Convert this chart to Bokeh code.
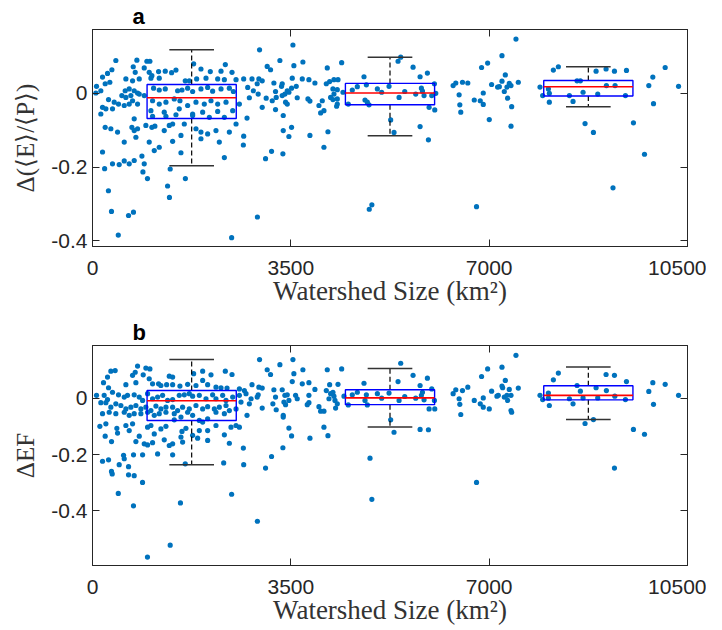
from bokeh.plotting import figure
from bokeh.layouts import column
from bokeh.models import Range1d, FixedTicker, LinearAxis
from bokeh.embed import file_html
from bokeh.resources import INLINE

# ---------------- data ----------------
x_ticks = [0, 3500, 7000, 10500]
y_ticks = [-0.4, -0.2, 0]

bin_centers = [1750, 5250, 8750]

# panel a box statistics
a_q1 = [-0.068, -0.031, -0.007]
a_med = [-0.012, 0.001, 0.018]
a_q3 = [0.024, 0.027, 0.035]
a_lo = [-0.196, -0.115, -0.036]
a_hi = [0.118, 0.098, 0.072]

# panel b box statistics
b_q1 = [-0.079, -0.023, -0.006]
b_med = [-0.009, 0.001, 0.010]
b_q3 = [0.027, 0.030, 0.044]
b_lo = [-0.236, -0.102, -0.076]
b_hi = [0.137, 0.105, 0.111]

# panel a scatter (watershed size km2, delta <E>/<P>)
a_pts = [
    (412, 0.089), (783, 0.090), (960, 0.087), (1013, 0.087), (719, 0.072), (913, 0.069),
    (1785, 0.080), (2344, 0.078), (342, 0.064), (265, 0.054), (754, 0.057), (1001, 0.057),
    (1048, 0.048), (1166, 0.059), (1284, 0.060), (1396, 0.056), (1473, 0.063), (1914, 0.066),
    (2079, 0.059), (2268, 0.060), (2462, 0.057), (177, 0.044), (589, 0.039), (707, 0.034),
    (825, 0.039), (1031, 0.041), (1178, 0.041), (1637, 0.034), (1708, 0.034), (1838, 0.039),
    (2003, 0.041), (2209, 0.039), (2327, 0.037), (2533, 0.037), (2668, 0.039), (2815, 0.039),
    (71, 0.019), (224, 0.026), (306, 0.030), (147, 0.007), (59, 0.001), (577, 0.007),
    (648, 0.012), (736, 0.007), (795, 0.001), (1078, 0.014), (1178, 0.009), (1284, 0.012),
    (1502, 0.007), (1579, 0.009), (1679, 0.014), (1767, 0.005), (1914, 0.012), (2032, 0.016),
    (2120, 0.006), (2268, 0.012), (2415, 0.014), (2486, 0.005), (2739, 0.016), (2839, 0.007),
    (2768, -0.012), (518, -0.006), (589, -0.011), (677, -0.006), (825, -0.002), (913, -0.006),
    (283, -0.017), (383, -0.024), (459, -0.029), (648, -0.029), (707, -0.020), (795, -0.029),
    (177, -0.038), (236, -0.042), (147, -0.056), (353, -0.042), (560, -0.033), (1060, -0.020),
    (1178, -0.029), (1296, -0.024), (1443, -0.015), (1543, -0.020), (1679, -0.033), (1826, -0.024),
    (1973, -0.029), (2091, -0.020), (2209, -0.029), (2356, -0.024), (2592, -0.029), (1031, -0.047),
    (1266, -0.051), (1531, -0.042), (1767, -0.056), (1944, -0.051), (2209, -0.049), (2474, -0.047),
    (2727, -0.067), (736, -0.069), (1060, -0.062), (1296, -0.062), (1473, -0.058), (1767, -0.060),
    (2062, -0.065), (2327, -0.065), (2533, -0.083), (224, -0.092), (324, -0.096), (442, -0.105),
    (695, -0.092), (736, -0.101), (795, -0.096), (942, -0.087), (1048, -0.092), (1101, -0.089),
    (1266, -0.101), (1355, -0.087), (1414, -0.083), (1620, -0.083), (1826, -0.096), (1914, -0.105),
    (2032, -0.110), (2179, -0.101), (2415, -0.105), (2668, -0.116), (560, -0.132), (766, -0.119),
    (1001, -0.132), (1178, -0.146), (1090, -0.155), (1414, -0.130), (1561, -0.114), (1914, -0.123),
    (2238, -0.132), (2662, -0.140), (177, -0.159), (872, -0.170), (736, -0.182), (648, -0.191),
    (560, -0.183), (471, -0.193), (353, -0.191), (913, -0.191), (1561, -0.161), (2327, -0.174),
    (214, -0.204), (890, -0.213), (1371, -0.205), (970, -0.231), (1639, -0.231), (1325, -0.251),
    (281, -0.264), (1358, -0.282), (335, -0.320), (636, -0.331), (723, -0.322), (455, -0.384),
    (2455, -0.391), (2910, -0.335), (4884, -0.314), (4930, -0.302), (6777, -0.307), (9185, -0.256),
    (2948, 0.118), (3537, 0.131), (3307, 0.089), (3713, 0.085), (3083, 0.073), (3142, 0.064),
    (3554, 0.075), (4143, 0.069), (4397, 0.083), (5439, 0.098), (5392, 0.087), (5657, 0.071),
    (4791, 0.045), (5781, 0.045), (5910, 0.055), (6411, 0.028), (6529, 0.030), (6623, 0.028),
    (6364, 0.021), (2936, 0.039), (2995, 0.034), (2906, 0.026), (2924, -0.002), (3201, 0.028),
    (3348, 0.026), (3336, 0.019), (3525, 0.041), (3702, 0.039), (3819, 0.037), (3925, 0.028),
    (3596, 0.019), (3513, 0.014), (3437, 0.007), (3466, 0.003), (3395, -0.002), (3348, -0.006),
    (3230, 0.005), (3242, -0.011), (3172, -0.020), (3065, -0.013), (2995, -0.038), (3230, -0.044),
    (3366, -0.060), (3437, -0.029), (3407, -0.024), (3613, -0.012), (3802, -0.015), (3837, -0.021),
    (3996, -0.033), (4055, -0.020), (4084, -0.047), (4026, -0.053), (4126, 0.026), (4185, 0.032),
    (4261, 0.037), (4332, 0.037), (4243, 0.012), (4320, 0.010), (4261, -0.002), (4202, -0.011),
    (4320, -0.015), (4243, -0.017), (4320, -0.029), (4308, -0.035), (4420, 0.003), (4514, -0.029),
    (4585, 0.009), (4673, 0.018), (4833, 0.023), (4809, -0.018), (4850, -0.024), (4880, -0.031),
    (5027, 0.012), (5103, 0.003), (5233, 0.019), (5410, -0.011), (5510, 0.005), (5704, -0.002),
    (5804, 0.014), (5823, 0.006), (5851, -0.006), (5987, -0.006), (6034, 0.026), (6058, 0.000),
    (5940, -0.038), (6040, -0.045), (5262, -0.072), (5321, -0.106), (5781, -0.090), (5928, -0.126),
    (3366, -0.101), (3513, -0.092), (3466, -0.117), (3837, -0.114), (4155, -0.104), (4084, -0.146),
    (3160, -0.157), (3054, -0.177), (3360, -0.164), (6470, -0.004), (6482, -0.031), (6499, -0.051),
    (7473, 0.147), (7226, 0.102), (6973, 0.082), (6866, 0.070), (7285, 0.050), (7226, 0.033),
    (7043, 0.024), (7149, 0.017), (7179, 0.018), (7314, 0.017), (7355, 0.027), (7385, 0.021),
    (7514, 0.030), (7267, 0.005), (6896, 0.001), (6737, -0.018), (6843, -0.020), (6896, -0.030),
    (7326, -0.013), (7397, -0.036), (7002, -0.071), (7385, -0.089), (8133, 0.063), (8221, 0.072),
    (7897, 0.017), (8045, 0.012), (7944, -0.006), (8062, 0.000), (8062, -0.024), (8551, 0.034),
    (8610, 0.034), (8887, 0.060), (9063, 0.066), (9211, 0.060), (9423, 0.062), (8657, 0.003),
    (8416, -0.006), (8480, -0.022), (8916, -0.002), (9069, 0.021), (9222, 0.021), (9405, -0.006),
    (8692, -0.082), (8840, -0.106), (9546, -0.080), (9741, -0.165), (9817, 0.021), (9888, 0.044),
    (9900, -0.028), (10106, 0.070), (10342, 0.019),
]

# panel b scatter (watershed size km2, delta EF)
b_pts = [
    (795, 0.114), (942, 0.107), (1013, 0.104), (324, 0.096), (400, 0.098), (754, 0.092),
    (707, 0.081), (895, 0.083), (1355, 0.078), (1414, 0.075), (1785, 0.087), (1944, 0.096),
    (2091, 0.083), (2344, 0.096), (2462, 0.084), (265, 0.075), (194, 0.055), (283, 0.037),
    (589, 0.048), (766, 0.055), (1001, 0.069), (1060, 0.051), (1166, 0.051), (1207, 0.045),
    (1308, 0.048), (1414, 0.048), (1543, 0.043), (1679, 0.049), (1826, 0.045), (1944, 0.063),
    (2032, 0.048), (2179, 0.039), (2268, 0.037), (2374, 0.036), (2592, 0.033), (2680, 0.027),
    (2815, 0.048), (71, 0.010), (206, 0.010), (265, -0.005), (353, 0.021), (459, 0.012),
    (560, 0.004), (618, 0.010), (736, 0.012), (825, 0.004), (884, -0.008), (972, 0.016),
    (1060, -0.002), (1149, 0.004), (1237, 0.010), (1325, -0.008), (1414, -0.005), (1531, 0.010),
    (1620, 0.012), (1708, 0.016), (1767, 0.007), (1885, 0.010), (2003, -0.002), (2120, 0.012),
    (2179, -0.002), (2297, 0.010), (2356, -0.008), (2474, 0.004), (2592, 0.010), (2709, 0.016),
    (2798, -0.002), (147, -0.016), (236, -0.016), (324, -0.032), (412, -0.020), (501, -0.026),
    (589, -0.038), (677, -0.032), (766, -0.026), (854, -0.038), (942, -0.032), (1031, -0.044),
    (1119, -0.028), (1207, -0.038), (1296, -0.032), (1414, -0.032), (1502, -0.044), (1590, -0.032),
    (1708, -0.038), (1826, -0.026), (1944, -0.038), (2032, -0.030), (2150, -0.038), (2238, -0.032),
    (2356, -0.026), (2415, -0.044), (2533, -0.038), (2621, -0.014), (2768, -0.020), (177, -0.055),
    (295, -0.050), (412, -0.055), (560, -0.050), (648, -0.061), (736, -0.055), (854, -0.055),
    (972, -0.050), (1090, -0.061), (1178, -0.055), (1296, -0.050), (1443, -0.055), (1561, -0.067),
    (1679, -0.050), (1767, -0.061), (1885, -0.079), (1944, -0.085), (2032, -0.073), (2179, -0.050),
    (2327, -0.055), (2533, -0.097), (2592, -0.103), (2727, -0.061), (130, -0.100), (236, -0.091),
    (430, -0.107), (442, -0.124), (589, -0.097), (648, -0.115), (707, -0.091), (972, -0.103),
    (1031, -0.097), (1090, -0.127), (1207, -0.109), (1296, -0.100), (1443, -0.077), (1579, -0.118),
    (1649, -0.107), (1767, -0.132), (1885, -0.115), (2032, -0.115), (2179, -0.097), (2327, -0.130),
    (2444, -0.103), (224, -0.135), (336, -0.154), (766, -0.154), (825, -0.135), (913, -0.162),
    (972, -0.166), (1060, -0.158), (1266, -0.148), (1355, -0.168), (1414, -0.162), (1561, -0.138),
    (1590, -0.156), (1855, -0.142), (2032, -0.150), (2415, -0.160), (2662, -0.177), (177, -0.224),
    (283, -0.219), (471, -0.236), (548, -0.203), (560, -0.215), (636, -0.243), (724, -0.201),
    (884, -0.201), (1149, -0.198), (1414, -0.201), (1637, -0.233), (2315, -0.230), (2668, -0.236),
    (335, -0.260), (348, -0.269), (636, -0.272), (736, -0.275), (883, -0.299), (455, -0.338),
    (2455, -0.341), (723, -0.382), (1552, -0.372), (2910, -0.437), (1371, -0.522), (970, -0.564),
    (4930, -0.359), (6777, -0.299),
    (2948, 0.137), (3537, 0.137), (3307, 0.119), (3713, 0.101), (3083, 0.101), (3142, 0.084),
    (3554, 0.087), (4143, 0.101), (4397, 0.104), (5439, 0.124), (5392, 0.059), (5657, 0.081),
    (5910, 0.071), (5781, 0.045), (4791, 0.053), (3702, 0.051), (3819, 0.055), (3525, 0.059),
    (3925, 0.031), (4185, 0.048), (4332, 0.049), (4126, 0.027), (2906, 0.004), (2936, 0.039),
    (2995, 0.036), (2924, 0.012), (3201, 0.030), (3230, 0.004), (3183, -0.020), (3348, 0.030),
    (3395, 0.010), (3437, 0.012), (3466, -0.008), (3378, -0.014), (3407, -0.023), (3584, 0.010),
    (3613, -0.002), (3819, 0.010), (3790, -0.023), (3819, -0.016), (3996, -0.030), (4026, -0.046),
    (4084, -0.046), (4173, -0.002), (4202, 0.016), (4243, 0.021), (4261, 0.007), (4279, -0.008),
    (4320, -0.020), (4290, -0.035), (4438, 0.007), (4514, -0.024), (4585, 0.012), (4673, 0.021),
    (4833, 0.012), (4809, -0.008), (4850, -0.024), (5027, 0.016), (5103, 0.000), (5233, 0.018),
    (5410, -0.008), (5510, 0.006), (5704, 0.000), (5804, 0.010), (5823, 0.021), (5851, -0.006),
    (5987, 0.033), (6034, -0.008), (5940, -0.038), (6040, -0.038), (2995, -0.035), (3242, -0.041),
    (3366, -0.061), (3366, -0.067), (5262, -0.077), (5321, -0.121), (5781, -0.111), (5928, -0.112),
    (3466, -0.106), (3513, -0.134), (3837, -0.142), (4084, -0.103), (4155, -0.133), (3360, -0.176),
    (3160, -0.207), (3054, -0.248), (4897, -0.213), (6411, 0.030), (6529, 0.027), (6623, 0.039),
    (6364, 0.016), (6470, -0.002), (6482, -0.022), (6499, -0.058),
    (7473, 0.152), (7226, 0.110), (6973, 0.104), (6866, 0.077), (7285, 0.063), (7226, 0.043),
    (7238, 0.037), (7043, 0.025), (7355, 0.031), (7514, 0.036), (7137, 0.007), (7161, 0.010),
    (7267, 0.004), (7314, 0.010), (7385, 0.010), (7326, -0.008), (6737, -0.008), (6843, -0.020),
    (6896, 0.001), (6896, -0.032), (7002, -0.038), (7385, -0.044), (7397, -0.050), (7897, 0.010),
    (7944, -0.005), (8045, 0.018), (8045, 0.000), (8062, -0.026), (8133, 0.065), (8221, 0.089),
    (8551, 0.045), (8610, 0.025), (8887, 0.037), (9063, 0.084), (9211, 0.081), (9069, 0.027),
    (9423, 0.059), (8416, -0.002), (8480, -0.020), (8657, 0.001), (8916, 0.001), (9217, 0.007),
    (9405, -0.005), (8692, -0.090), (8840, -0.076), (9546, -0.111), (9741, -0.128), (9211, -0.248),
    (9817, 0.024), (9888, 0.055), (9900, -0.022), (10106, 0.049), (10342, 0.010),
]

a_x = [p[0] for p in a_pts]
a_y = [p[1] for p in a_pts]
b_x = [p[0] for p in b_pts]
b_y = [p[1] for p in b_pts]

# ---------------- styling constants ----------------
DOT = "#0072BD"
AX = "#262626"
BOX_HALF = 787
CAP_HALF = 394


def make_panel(xs, ys, q1, med, q3, lo, hi, yr, ylabel, tag, height, top, bottom):
    p = figure(width=706, height=height, x_range=Range1d(0, 10500), y_range=Range1d(*yr),
               output_backend="svg", toolbar_location=None,
               min_border_left=92, min_border_right=19, min_border_top=top,
               min_border_bottom=bottom)
    p.xgrid.visible = False
    p.ygrid.visible = False
    p.outline_line_color = AX
    p.outline_line_width = 1
    p.background_fill_color = "white"

    p.title.text = tag
    p.title.align = "left"
    p.title.offset = 40
    p.title.standoff = 2
    p.title.text_font = "Liberation Sans"
    p.title.text_font_style = "bold"
    p.title.text_font_size = "22px"
    p.title.text_color = "black"

    p.scatter(xs, ys, size=5.2, fill_color=DOT, line_color=DOT, line_width=0)

    left = [c - BOX_HALF for c in bin_centers]
    right = [c + BOX_HALF for c in bin_centers]
    cl = [c - CAP_HALF for c in bin_centers]
    cr = [c + CAP_HALF for c in bin_centers]
    # whiskers
    p.segment(bin_centers, q3, bin_centers, hi, line_color="black", line_dash="5 3", line_width=1.2)
    p.segment(bin_centers, q1, bin_centers, lo, line_color="black", line_dash="5 3", line_width=1.2)
    p.segment(cl, hi, cr, hi, line_color="#333333", line_width=1.5)
    p.segment(cl, lo, cr, lo, line_color="#333333", line_width=1.5)
    # boxes
    p.quad(left=left, right=right, bottom=q1, top=q3, fill_alpha=0, line_color="#0000FF", line_width=1.4)
    p.segment(left, med, right, med, line_color="#FF0000", line_width=1.6)

    for ax in (p.xaxis[0], p.yaxis[0]):
        ax.major_tick_in = 7
        ax.major_tick_out = 0
        ax.minor_tick_line_color = None
        ax.axis_line_color = AX
        ax.major_tick_line_color = AX
        ax.major_label_text_font = "Liberation Sans"
        ax.major_label_text_font_size = "21px"
        ax.major_label_text_color = AX
        ax.axis_label_text_font = "Liberation Serif"
        ax.axis_label_text_font_style = "normal"
        ax.axis_label_text_color = "#333333"

    p.xaxis.ticker = FixedTicker(ticks=x_ticks)
    p.xaxis.major_label_overrides = {t: str(t) for t in x_ticks}
    p.xaxis.major_label_standoff = 14
    p.xaxis.axis_label = "Watershed Size (km²)"
    p.xaxis.axis_label_text_font_size = "27px"
    p.xaxis.axis_label_standoff = -2

    p.yaxis.ticker = FixedTicker(ticks=y_ticks)
    p.yaxis.major_label_overrides = {-0.4: "-0.4", -0.2: "-0.2", 0: "0"}
    p.yaxis.major_label_standoff = 5
    p.yaxis.axis_label = ylabel
    p.yaxis.axis_label_text_font_size = "25px"
    p.yaxis.axis_label_standoff = 9

    top_ax = LinearAxis(ticker=FixedTicker(ticks=x_ticks), major_label_text_font_size="1px",
                        major_label_text_color=None, major_label_text_alpha=0,
                        major_tick_in=7, major_tick_out=0, minor_tick_line_color=None,
                        major_label_standoff=0, axis_line_color=AX, major_tick_line_color=AX)
    right_ax = LinearAxis(ticker=FixedTicker(ticks=y_ticks), major_label_text_font_size="1px",
                          major_label_text_color=None, major_label_text_alpha=0,
                          major_tick_in=7, major_tick_out=0, minor_tick_line_color=None,
                          major_label_standoff=0, axis_line_color=AX, major_tick_line_color=AX)
    p.add_layout(top_ax, "above")
    p.add_layout(right_ax, "right")
    return p


p1 = make_panel(a_x, a_y, a_q1, a_med, a_q3, a_lo, a_hi, (-0.415, 0.173),
                "Δ(⟨E⟩/⟨P⟩)", "a", 312, 28, 66)
p2 = make_panel(b_x, b_y, b_q1, b_med, b_q3, b_lo, b_hi, (-0.594, 0.187),
                "ΔEF", "b", 315, 33, 62)

layout = column(p1, p2, spacing=0)
open("out.html", "w").write(file_html(layout, INLINE))
